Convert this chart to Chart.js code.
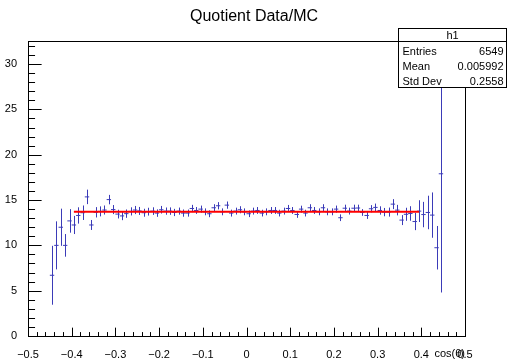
<!DOCTYPE html>
<html>
<head>
<meta charset="utf-8">
<script src="https://cdn.jsdelivr.net/npm/chart.js@4.4.1/dist/chart.umd.min.js"></script>
<style>
  html, body { margin: 0; padding: 0; background: #fff; }
</style>
</head>
<body>
<canvas id="quotientChart" width="508" height="362"></canvas>
<script>
// Histogram h1 : quotient Data/MC, bins of width 0.01
var binCenters = [
  -0.445, -0.435, -0.425, -0.415, -0.405, -0.395, -0.385, -0.375, -0.365, -0.355,
  -0.345, -0.335, -0.325, -0.315, -0.305, -0.295, -0.285, -0.275, -0.265, -0.255,
  -0.245, -0.235, -0.225, -0.215, -0.205, -0.195, -0.185, -0.175, -0.165, -0.155,
  -0.145, -0.135, -0.125, -0.115, -0.105, -0.095, -0.085, -0.075, -0.065, -0.055,
  -0.045, -0.035, -0.025, -0.015, -0.005, 0.005, 0.015, 0.025, 0.035, 0.045,
  0.055, 0.065, 0.075, 0.085, 0.095, 0.105, 0.115, 0.125, 0.135, 0.145,
  0.155, 0.165, 0.175, 0.185, 0.195, 0.205, 0.215, 0.225, 0.235, 0.245,
  0.255, 0.265, 0.275, 0.285, 0.295, 0.305, 0.315, 0.325, 0.335, 0.345,
  0.355, 0.365, 0.375, 0.385, 0.395, 0.405, 0.415, 0.425, 0.435, 0.445
];
var binValues = [
  6.7, 10.0, 12.0, 10.0, 12.7, 12.25, 13.3, 13.6, 15.35, 12.25,
  13.65, 13.75, 13.9, 15.05, 13.95, 13.45, 13.25, 13.5, 13.75, 13.9,
  13.8, 13.6, 13.72, 13.78, 13.56, 13.93, 13.78, 13.78, 13.63, 13.78,
  13.56, 13.56, 14.07, 13.85, 14.0, 13.7, 13.49, 14.15, 14.37, 13.7,
  14.44, 13.56, 13.78, 13.93, 13.7, 13.49, 13.78, 13.85, 13.56, 13.7,
  13.85, 13.85, 13.56, 13.78, 14.07, 13.85, 13.41, 14.0, 13.56, 14.15,
  13.85, 13.7, 14.15, 13.7, 13.7, 14.0, 13.05, 14.1, 13.78, 14.1,
  14.12, 13.63, 13.3, 14.04, 14.19, 13.85, 13.67, 13.67, 14.55, 13.89,
  12.79, 13.43, 13.52, 12.63, 13.78, 13.4, 13.63, 13.34, 9.74, 17.9
];
var binErrors = [
  3.25, 2.65, 2.05, 1.25, 1.3, 1.0, 0.9, 0.8, 0.8, 0.55,
  0.57, 0.55, 0.5, 0.52, 0.5, 0.48, 0.47, 0.46, 0.45, 0.45,
  0.44, 0.44, 0.43, 0.42, 0.41, 0.42, 0.4, 0.41, 0.4, 0.39,
  0.4, 0.39, 0.4, 0.38, 0.39, 0.38, 0.38, 0.39, 0.4, 0.38,
  0.4, 0.38, 0.38, 0.39, 0.38, 0.37, 0.38, 0.38, 0.37, 0.38,
  0.38, 0.38, 0.37, 0.38, 0.39, 0.38, 0.37, 0.38, 0.37, 0.39,
  0.38, 0.38, 0.39, 0.38, 0.38, 0.39, 0.37, 0.39, 0.38, 0.39,
  0.37, 0.37, 0.38, 0.4, 0.42, 0.46, 0.46, 0.5, 0.55, 0.58,
  0.55, 0.72, 0.8, 0.95, 1.2, 1.4, 1.85, 2.5, 2.4, 13.1
];

// constant fit (red line)
var fitX = [-0.395, 0.395];
var fitY = [13.7, 13.7];

var xTicks = [-0.5, -0.4, -0.3, -0.2, -0.1, 0, 0.1, 0.2, 0.3, 0.4, 0.5];
var yTicks = [0, 5, 10, 15, 20, 25, 30];
var xMin = -0.5, xMax = 0.5, yMin = 0, yMax = 32.55;

var statsTitle = "h1";
var statsLabels = ["Entries", "Mean", "Std Dev"];
var statsValues = ["6549", "0.005992", "0.2558"];

var FONT = "'Liberation Sans', Arial, Helvetica, sans-serif";
var histColor = "#3b3bb8";

function fmtTick(v) {
  var r = Math.round(v * 10) / 10;
  if (r === 0) return "0";
  return (r < 0 ? "\u2212" : "") + Math.abs(r).toString();
}

var rootStyle = {
  id: "rootStyle",
  beforeDatasetsDraw: function(chart) {
    var ctx = chart.ctx, xs = chart.scales.x, ys = chart.scales.y;
    ctx.save();
    ctx.strokeStyle = histColor;
    ctx.lineWidth = 1;
    var topLim = ys.getPixelForValue(yMax);
    for (var i = 0; i < binCenters.length; i++) {
      var px = Math.round(xs.getPixelForValue(binCenters[i])) + 0.5;
      var top = Math.max(topLim, ys.getPixelForValue(binValues[i] + binErrors[i]));
      var bot = ys.getPixelForValue(Math.max(0, binValues[i] - binErrors[i]));
      ctx.beginPath();
      ctx.moveTo(px, top);
      ctx.lineTo(px, bot);
      ctx.stroke();
    }
    ctx.restore();
  },
  afterDraw: function(chart) {
    var ctx = chart.ctx, xs = chart.scales.x, ys = chart.scales.y;
    ctx.save();
    ctx.strokeStyle = "#000";
    ctx.lineWidth = 1;
    var L = Math.round(xs.getPixelForValue(xMin)) + 0.5, R = Math.round(xs.getPixelForValue(xMax)) + 0.5;
    var T = Math.round(ys.getPixelForValue(yMax)) + 0.5, B = Math.round(ys.getPixelForValue(yMin)) + 0.5;
    ctx.strokeRect(L, T, R - L, B - T);

    // x axis ticks (inward)
    var xMajorLen = 0.03 * (B - T);
    ctx.beginPath();
    for (var k = 0; k <= 50; k++) {
      var v = xMin + k * 0.02;
      var p = Math.round(xs.getPixelForValue(v)) + 0.5;
      var len = (k % 5 === 0) ? xMajorLen : xMajorLen / 2;
      ctx.moveTo(p, B);
      ctx.lineTo(p, B - len);
    }
    // y axis ticks (inward)
    var yMajorLen = 0.03 * (R - L);
    for (var j = 0; j <= Math.floor(yMax); j++) {
      var q = Math.round(ys.getPixelForValue(j)) + 0.5;
      var l2 = (j % 5 === 0) ? yMajorLen : yMajorLen / 2;
      ctx.moveTo(L, q);
      ctx.lineTo(L + l2, q);
    }
    ctx.stroke();

    // title
    ctx.fillStyle = "#000";
    ctx.font = "16px " + FONT;
    ctx.textAlign = "center";
    ctx.textBaseline = "middle";
    ctx.fillText("Quotient Data/MC", 254, 17);

    // stats box
    var bx = 398.5, by = 28.5, bw = 108, bh = 59;
    ctx.fillStyle = "#fff";
    ctx.fillRect(bx, by, bw, bh);
    ctx.strokeRect(bx, by, bw, bh);
    ctx.beginPath();
    ctx.moveTo(bx, 41.5);
    ctx.lineTo(bx + bw, 41.5);
    ctx.stroke();
    ctx.fillStyle = "#000";
    ctx.font = "11px " + FONT;
    ctx.textAlign = "center";
    ctx.fillText(statsTitle, bx + bw / 2, 35.5);
    for (var s = 0; s < statsLabels.length; s++) {
      var ty = 51.5 + s * 15;
      ctx.textAlign = "left";
      ctx.fillText(statsLabels[s], bx + 4, ty);
      ctx.textAlign = "right";
      ctx.fillText(statsValues[s], bx + bw - 3, ty);
    }
    ctx.restore();
  }
};

new Chart("quotientChart", {
  type: "scatter",
  data: {
    datasets: [{
      label: "fit",
      type: "line",
      data: fitX.map(function(x, i) { return { x: x, y: fitY[i] }; }),
      borderColor: "#ff0000",
      borderWidth: 2,
      pointRadius: 0,
      fill: false,
      order: 0
    }, {
      label: "h1",
      data: binCenters.map(function(x, i) { return { x: x, y: binValues[i] }; }),
      pointStyle: "line",
      pointRadius: 2.2,
      borderColor: histColor,
      backgroundColor: histColor,
      borderWidth: 1,
      order: 1
    }]
  },
  options: {
    responsive: false,
    animation: false,
    devicePixelRatio: 1,
    layout: { padding: { top: 41, right: 43, left: 0, bottom: 0 } },
    plugins: { legend: { display: false }, tooltip: { enabled: false }, title: { display: false } },
    scales: {
      x: {
        type: "linear",
        min: xMin, max: xMax,
        afterFit: function(scale) { scale.height = 26; },
        afterBuildTicks: function(scale) { scale.ticks = xTicks.map(function(v) { return { value: v }; }); },
        grid: { display: false },
        border: { display: false },
        ticks: {
          autoSkip: false, maxRotation: 0, padding: 4,
          color: "#000", font: { family: FONT, size: 11 },
          callback: function(v) { return fmtTick(v); }
        },
        title: {
          display: true, text: "cos(\u03b8)", align: "end",
          color: "#000", font: { family: FONT, size: 11 },
          padding: { top: 0, bottom: 1 }
        }
      },
      y: {
        type: "linear",
        min: yMin, max: yMax,
        afterFit: function(scale) { scale.width = 28; },
        afterBuildTicks: function(scale) { scale.ticks = yTicks.map(function(v) { return { value: v }; }); },
        grid: { display: false },
        border: { display: false },
        ticks: {
          autoSkip: false, padding: 3,
          color: "#000", font: { family: FONT, size: 11 }
        }
      }
    }
  },
  plugins: [rootStyle]
});
</script>
</body>
</html>
